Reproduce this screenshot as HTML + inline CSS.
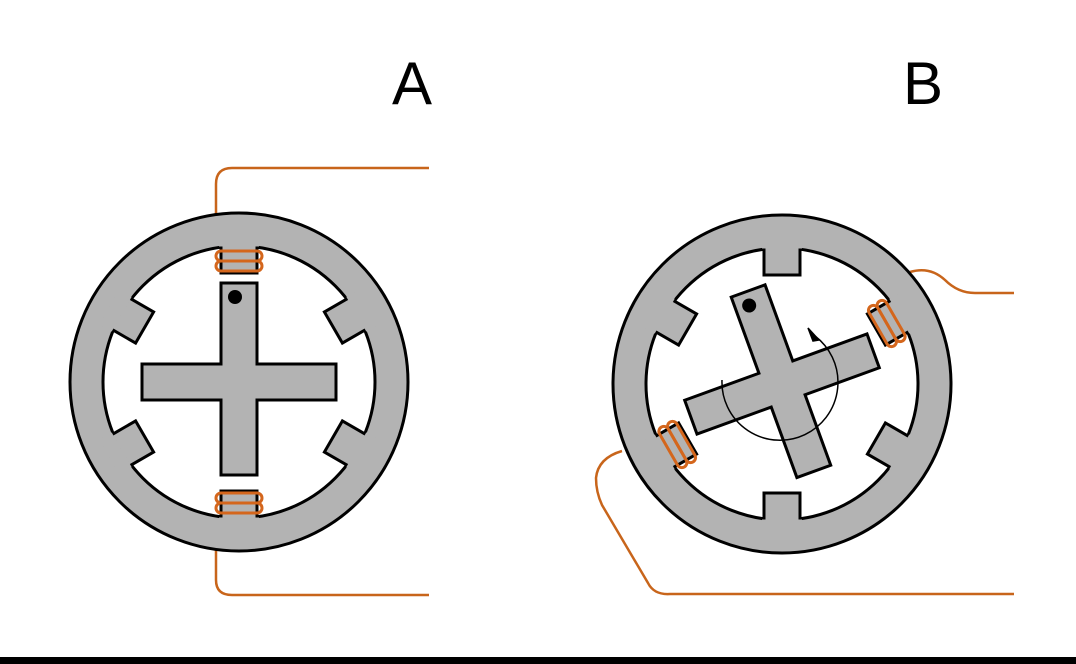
<!DOCTYPE html>
<html><head><meta charset="utf-8"><style>
html,body{margin:0;padding:0;background:#fff;}
svg{display:block;}
</style></head><body>
<svg width="1076" height="664" viewBox="0 0 1076 664" xmlns="http://www.w3.org/2000/svg">
<defs>
<g id="pole">
  <rect x="-18" y="-138" width="36" height="29" fill="#b3b3b3" stroke="#000" stroke-width="3"/>
  <rect x="-20" y="-150" width="40" height="14.5" fill="#b3b3b3"/>
</g>
<g id="coil" fill="none" stroke="#d4661c" stroke-width="3">
  <rect x="-23" y="-131" width="46" height="10" rx="5"/>
  <rect x="-23" y="-121" width="46" height="10" rx="5"/>
</g>
<g id="stator">
  <circle r="169" fill="#b3b3b3" stroke="#000" stroke-width="3"/>
  <circle r="136" fill="#fff" stroke="#000" stroke-width="3"/>
</g>
<g id="rotor">
  <path d="M-18,-99 H18 V-18 H97 V18 H18 V93 H-18 V18 H-97 V-18 H-18 Z" fill="#b3b3b3" stroke="#000" stroke-width="3"/>
  <circle cx="-4" cy="-85" r="7" fill="#000"/>
</g>
</defs>

<text x="412" y="104" font-family="Liberation Sans, sans-serif" font-size="60" text-anchor="middle" fill="#000">A</text>
<text x="923" y="104" font-family="Liberation Sans, sans-serif" font-size="60" text-anchor="middle" fill="#000">B</text>

<path d="M216,214 V184 Q216,168 232,168 H429" fill="none" stroke="#c8651b" stroke-width="2.5"/>
<path d="M216,550 V580 Q216,595 232,595 H429" fill="none" stroke="#c8651b" stroke-width="2.5"/>

<g transform="translate(239,382)">
  <use href="#stator"/>
  <use href="#pole"/>
  <use href="#pole" transform="rotate(60)"/>
  <use href="#pole" transform="rotate(120)"/>
  <use href="#pole" transform="rotate(180)"/>
  <use href="#pole" transform="rotate(240)"/>
  <use href="#pole" transform="rotate(300)"/>
  <use href="#coil"/>
  <use href="#coil" transform="rotate(180)"/>
  <use href="#rotor"/>
</g>

<path d="M910,272 Q930,266 945,280 Q958,293 975,293 H1014" fill="none" stroke="#c8651b" stroke-width="2.5"/>
<path d="M622,451 Q598,458 596,478 Q596,492 602,505 L648,583 Q654,595 670,594 H1014" fill="none" stroke="#c8651b" stroke-width="2.5"/>

<g transform="translate(782,384)">
  <use href="#stator"/>
  <use href="#pole"/>
  <use href="#pole" transform="rotate(60)"/>
  <use href="#pole" transform="rotate(120)"/>
  <use href="#pole" transform="rotate(180)"/>
  <use href="#pole" transform="rotate(240)"/>
  <use href="#pole" transform="rotate(300)"/>
  <use href="#coil" transform="rotate(60)"/>
  <use href="#coil" transform="rotate(240)"/>
  <use href="#rotor" transform="rotate(-20)"/>
  <path d="M-60,-4 A58,58 0 1 0 33,-48" fill="none" stroke="#000" stroke-width="1.5"/>
  <path d="M26,-56 L37,-44 L31,-43 Z" fill="#000" stroke="#000" stroke-width="1.5"/>
</g>

<rect x="0" y="657" width="1076" height="7" fill="#000"/>
</svg>
</body></html>
